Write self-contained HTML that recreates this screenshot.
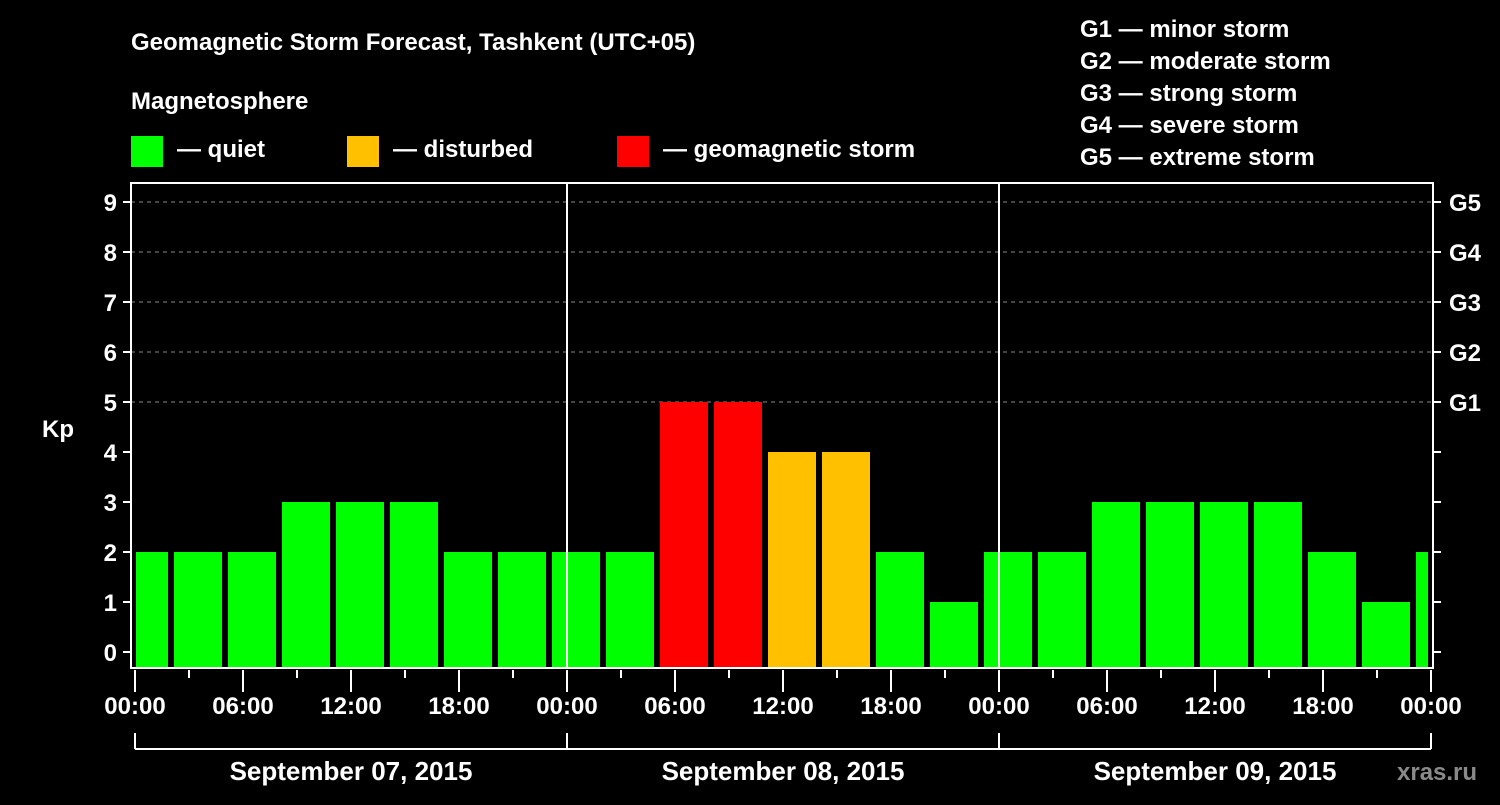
<!DOCTYPE html>
<html><head><meta charset="utf-8"><style>
body{margin:0;background:#000;width:1500px;height:800px;overflow:hidden}
svg text{font-family:"Liberation Sans",Arial,sans-serif;font-weight:bold;fill:#fff}
</style></head><body>
<svg id="c" width="1500" height="800" xmlns="http://www.w3.org/2000/svg">
<text x="131" y="50" font-size="24">Geomagnetic Storm Forecast, Tashkent (UTC+05)</text>
<text x="131" y="109" font-size="24">Magnetosphere</text>
<g><rect x="131" y="136" width="32" height="31" fill="#00ff00"/><text x="177" y="157" font-size="24">— quiet</text></g>
<g><rect x="347" y="136" width="32" height="31" fill="#ffc000"/><text x="393" y="157" font-size="24">— disturbed</text></g>
<g><rect x="617" y="136" width="32" height="31" fill="#ff0000"/><text x="663" y="157" font-size="24">— geomagnetic storm</text></g>
<g font-size="24">
<text x="1080" y="37">G1 — minor storm</text><text x="1080" y="69">G2 — moderate storm</text><text x="1080" y="101">G3 — strong storm</text><text x="1080" y="133">G4 — severe storm</text><text x="1080" y="165">G5 — extreme storm</text></g>
<text x="42" y="437" font-size="24">Kp</text>
<text x="1397" y="780" font-size="24" fill="#888" style="fill:#8a8a8a">xras.ru</text>
<g id="grid"></g><g id="bars"></g><g id="axes"></g>
</svg>
<script>
const values=[2,2,2,3,3,3,2,2, 2,2,5,5,4,4,2,1, 2,2,3,3,3,3,2,1, 2];
const days=["September 07, 2015","September 08, 2015","September 09, 2015"];
const timeLabels=["00:00","06:00","12:00","18:00"];
const gLabels=["G1","G2","G3","G4","G5"];
const NS="http://www.w3.org/2000/svg";
const X0=135,PXH=18,Y0=652,PXK=50,L=131,R=1433,T=183,B=668;
const xs=h=>X0+h*PXH, ys=k=>Y0-k*PXK;
function mk(p,t,a){const e=document.createElementNS(NS,t);for(const k in a)e.setAttribute(k,a[k]);p.appendChild(e);return e;}
const grid=document.getElementById('grid'),bars=document.getElementById('bars'),ax=document.getElementById('axes');
for(let k=5;k<=9;k++){const l=mk(grid,'line',{x1:L,x2:R,y1:ys(k),y2:ys(k),stroke:'#888','stroke-dasharray':'4,4','stroke-width':1});

}
values.forEach((v,i)=>{const c=xs(0.5+3*i);let x1=Math.max(c-24,136),x2=Math.min(c+24,1428);if(x2<=x1)return;
const col=v>=5?'#ff0000':v>=4?'#ffc000':'#00ff00';
const r=mk(bars,'rect',{x:x1,y:ys(v),width:x2-x1,height:B-ys(v),fill:col});

});
[1,2].forEach(d=>{const l=mk(ax,'line',{x1:xs(24*d),x2:xs(24*d),y1:T,y2:B,stroke:'#fff','stroke-width':2});

});
const fr=mk(ax,'rect',{x:L,y:T,width:R-L,height:B-T,fill:'none',stroke:'#fff','stroke-width':2});


for(let k=0;k<=9;k++){mk(ax,'line',{x1:L-8,x2:L,y1:ys(k),y2:ys(k),stroke:'#fff','stroke-width':2});
mk(ax,'line',{x1:R,x2:R+8,y1:ys(k),y2:ys(k),stroke:'#fff','stroke-width':2});
const t=mk(ax,'text',{x:L-14,y:ys(k)+9,'font-size':24,'text-anchor':'end'});t.textContent=k;

}
gLabels.forEach((g,i)=>{const t=mk(ax,'text',{x:R+16,y:ys(5+i)+9,'font-size':24});t.textContent=g;

});
for(let h=0;h<=72;h+=3){const maj=h%6===0;mk(ax,'line',{x1:xs(h),x2:xs(h),y1:B+2,y2:maj?B+24:B+10,stroke:'#fff','stroke-width':2});
if(maj){const t=mk(ax,'text',{x:xs(h),y:714,'font-size':24,'text-anchor':'middle'});t.textContent=timeLabels[(h/6)%4];

}}
mk(ax,'line',{x1:xs(0),x2:xs(72),y1:749,y2:749,stroke:'#fff','stroke-width':2});
for(let d=0;d<=3;d++)mk(ax,'line',{x1:xs(24*d),x2:xs(24*d),y1:733,y2:749,stroke:'#fff','stroke-width':2});
days.forEach((d,i)=>{const t=mk(ax,'text',{x:xs(24*i+12),y:780,'font-size':26,'text-anchor':'middle'});t.textContent=d;

});
</script>
</body></html>
